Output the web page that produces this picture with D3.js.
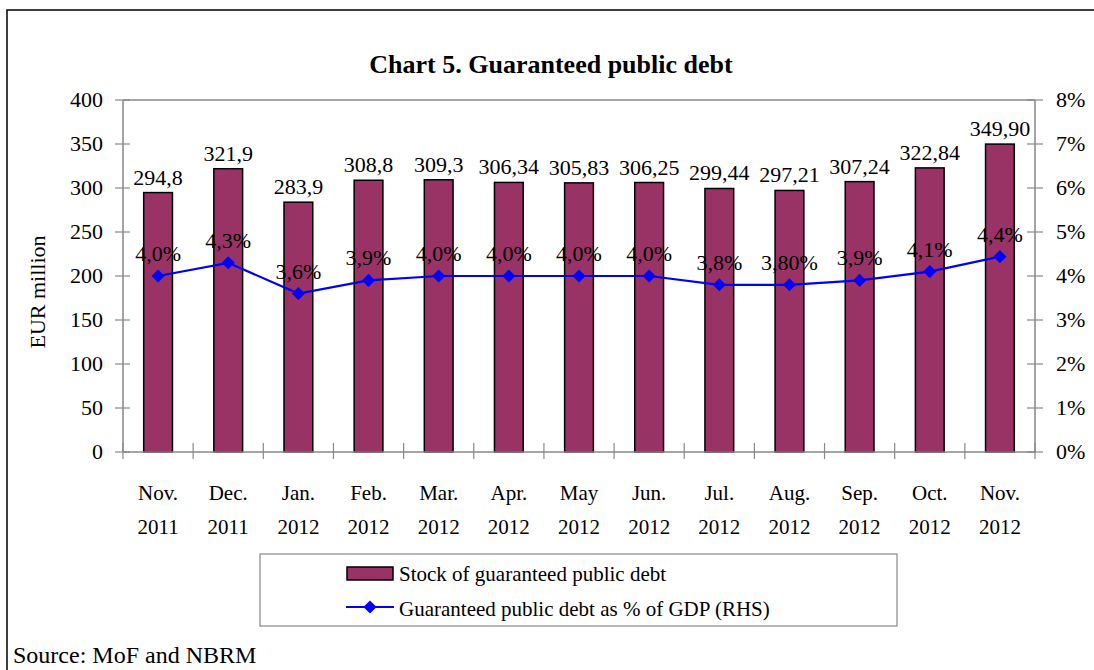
<!DOCTYPE html>
<html>
<head>
<meta charset="utf-8">
<script src="https://cdn.jsdelivr.net/npm/d3@7"></script>
<style>
  body { margin: 0; background: #fff; }
  svg { font-family: "Liberation Serif", "DejaVu Serif", serif; }
</style>
</head>
<body>
<svg id="chart" width="1094" height="670"></svg>
<script>
// data
var months = ["Nov.", "Dec.", "Jan.", "Feb.", "Mar.", "Apr.", "May", "Jun.", "Jul.", "Aug.", "Sep.", "Oct.", "Nov."];
var years = ["2011", "2011", "2012", "2012", "2012", "2012", "2012", "2012", "2012", "2012", "2012", "2012", "2012"];
var debt = [294.8, 321.9, 283.9, 308.8, 309.3, 306.34, 305.83, 306.25, 299.44, 297.21, 307.24, 322.84, 349.90];
var debtLabels = ["294,8", "321,9", "283,9", "308,8", "309,3", "306,34", "305,83", "306,25", "299,44", "297,21", "307,24", "322,84", "349,90"];
var pctGdp = [4.0, 4.3, 3.6, 3.9, 4.0, 4.0, 4.0, 4.0, 3.8, 3.8, 3.9, 4.1, 4.44];
var pctLabels = ["4,0%", "4,3%", "3,6%", "3,9%", "4,0%", "4,0%", "4,0%", "4,0%", "3,8%", "3,80%", "3,9%", "4,1%", "4,4%"];
var leftTicks = [0, 50, 100, 150, 200, 250, 300, 350, 400];
var rightTicks = [0, 1, 2, 3, 4, 5, 6, 7, 8];

var svg = d3.select("#chart");
var grey = "#898989";

// outer frame
svg.append("rect")
    .attr("x", 7).attr("y", 10)
    .attr("width", 1100).attr("height", 700)
    .attr("fill", "none").attr("stroke", "#000").attr("stroke-width", 1.5);

var pLeft = 123, pRight = 1035, pTop = 100, pBottom = 452;

var x = d3.scaleBand()
    .domain(d3.range(months.length))
    .range([pLeft, pRight])
    .paddingInner(0.59).paddingOuter(0.295);
var xb = d3.scaleBand().domain(d3.range(months.length)).range([pLeft, pRight]);
var y = d3.scaleLinear().domain([0, 400]).range([pBottom, pTop]);
var y2 = d3.scaleLinear().domain([0, 8]).range([pBottom, pTop]);

svg.append("text")
    .attr("x", 551).attr("y", 73)
    .attr("text-anchor", "middle")
    .attr("font-size", 26).attr("font-weight", "bold")
    .text("Chart 5. Guaranteed public debt");

// plot area top border
svg.append("line")
    .attr("x1", pLeft).attr("x2", pRight).attr("y1", pTop).attr("y2", pTop)
    .attr("stroke", grey).attr("stroke-width", 1.5);

// left axis
var gl = svg.append("g");
gl.append("line").attr("x1", pLeft).attr("x2", pLeft).attr("y1", pTop).attr("y2", pBottom)
    .attr("stroke", grey).attr("stroke-width", 1.5);
gl.selectAll(".t").data(leftTicks).enter().append("line")
    .attr("x1", pLeft - 8).attr("x2", pLeft + 7)
    .attr("y1", function(d) { return y(d); }).attr("y2", function(d) { return y(d); })
    .attr("stroke", grey).attr("stroke-width", 1.2);
gl.selectAll("text").data(leftTicks).enter().append("text")
    .attr("x", pLeft - 20).attr("y", function(d) { return y(d) + 7; })
    .attr("text-anchor", "end").attr("font-size", 22)
    .text(function(d) { return d; });

// right axis
var gr = svg.append("g");
gr.append("line").attr("x1", pRight).attr("x2", pRight).attr("y1", pTop).attr("y2", pBottom)
    .attr("stroke", grey).attr("stroke-width", 1.5);
gr.selectAll(".t").data(rightTicks).enter().append("line")
    .attr("x1", pRight - 8).attr("x2", pRight + 8)
    .attr("y1", function(d) { return y2(d); }).attr("y2", function(d) { return y2(d); })
    .attr("stroke", grey).attr("stroke-width", 1.2);
gr.selectAll("text").data(rightTicks).enter().append("text")
    .attr("x", pRight + 21).attr("y", function(d) { return y2(d) + 7; })
    .attr("font-size", 22)
    .text(function(d) { return d + "%"; });

// y title
svg.append("text")
    .attr("transform", "translate(45,292) rotate(-90)")
    .attr("text-anchor", "middle").attr("font-size", 22)
    .text("EUR million");

// bars
svg.append("g").selectAll("rect").data(debt).enter().append("rect")
    .attr("x", function(d, i) { return x(i); })
    .attr("width", x.bandwidth())
    .attr("y", function(d) { return y(d); })
    .attr("height", function(d) { return pBottom - y(d); })
    .attr("fill", "#993366").attr("stroke", "#000").attr("stroke-width", 1.5);

// x axis
svg.append("line").attr("x1", pLeft).attr("x2", pRight).attr("y1", pBottom).attr("y2", pBottom)
    .attr("stroke", grey).attr("stroke-width", 1.5);
svg.append("g").selectAll("line").data(d3.range(months.length + 1)).enter().append("line")
    .attr("x1", function(d) { return pLeft + d * xb.step(); })
    .attr("x2", function(d) { return pLeft + d * xb.step(); })
    .attr("y1", pBottom - 9).attr("y2", pBottom + 7)
    .attr("stroke", grey).attr("stroke-width", 1.2);
var xl = svg.append("g").attr("font-size", 21).attr("text-anchor", "middle");
xl.selectAll(".m").data(months).enter().append("text")
    .attr("x", function(d, i) { return xb(i) + xb.bandwidth() / 2; })
    .attr("y", 500).text(function(d) { return d; });
xl.selectAll(".yr").data(years).enter().append("text")
    .attr("x", function(d, i) { return xb(i) + xb.bandwidth() / 2; })
    .attr("y", 534).text(function(d) { return d; });

// bar labels
svg.append("g").selectAll("text").data(debt).enter().append("text")
    .attr("x", function(d, i) { return x(i) + x.bandwidth() / 2; })
    .attr("y", function(d) { return y(d) - 8; })
    .attr("text-anchor", "middle").attr("font-size", 22)
    .text(function(d, i) { return debtLabels[i]; });

// line
var line = d3.line()
    .x(function(d, i) { return x(i) + x.bandwidth() / 2; })
    .y(function(d) { return y2(d); });
svg.append("path").datum(pctGdp)
    .attr("d", line).attr("fill", "none").attr("stroke", "#0000ff").attr("stroke-width", 2.2);
var diamond = d3.symbol().type(d3.symbolDiamond2).size(110);
svg.append("g").selectAll("path").data(pctGdp).enter().append("path")
    .attr("transform", function(d, i) { return "translate(" + (x(i) + x.bandwidth() / 2) + "," + y2(d) + ")"; })
    .attr("d", diamond).attr("fill", "#0000ff");
svg.append("g").selectAll("text").data(pctGdp).enter().append("text")
    .attr("x", function(d, i) { return x(i) + x.bandwidth() / 2; })
    .attr("y", function(d) { return y2(d) - 15; })
    .attr("text-anchor", "middle").attr("font-size", 22)
    .text(function(d, i) { return pctLabels[i]; });

// legend
var lg = svg.append("g");
lg.append("rect").attr("x", 260).attr("y", 554).attr("width", 637).attr("height", 72)
    .attr("fill", "#fff").attr("stroke", grey).attr("stroke-width", 1.2);
lg.append("rect").attr("x", 347).attr("y", 567).attr("width", 46).attr("height", 13)
    .attr("fill", "#993366").attr("stroke", "#000").attr("stroke-width", 1.5);
lg.append("text").attr("x", 399).attr("y", 581).attr("font-size", 21)
    .text("Stock of guaranteed public debt");
lg.append("line").attr("x1", 346).attr("x2", 394).attr("y1", 607).attr("y2", 607)
    .attr("stroke", "#0000ff").attr("stroke-width", 2.2);
lg.append("path").attr("transform", "translate(370,607)").attr("d", diamond).attr("fill", "#0000ff");
lg.append("text").attr("x", 399).attr("y", 616).attr("font-size", 21)
    .text("Guaranteed public debt as % of GDP (RHS)");

svg.append("text").attr("x", 13).attr("y", 663).attr("font-size", 24)
    .text("Source: MoF and NBRM");
</script>
</body>
</html>
